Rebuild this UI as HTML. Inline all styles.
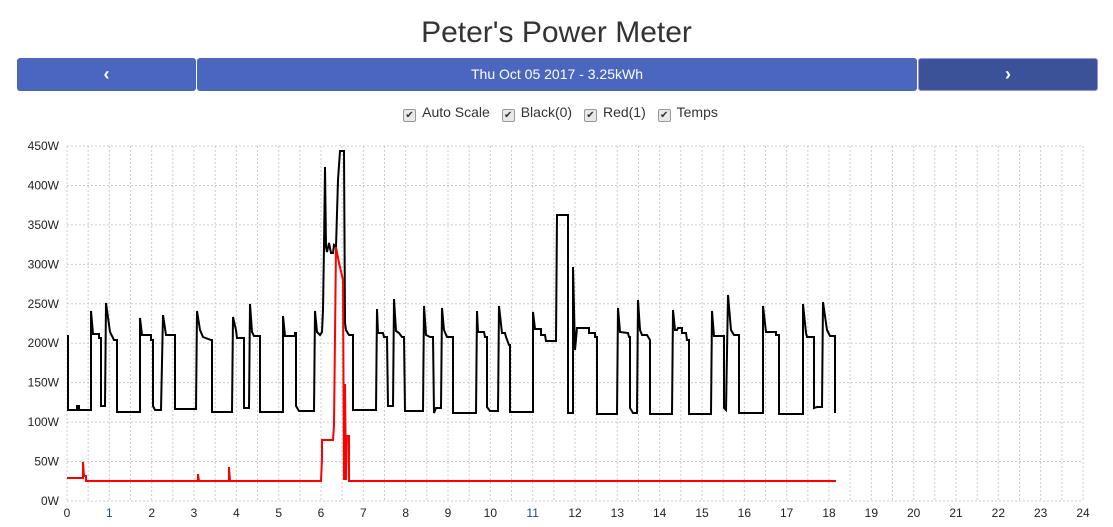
<!DOCTYPE html>
<html><head><meta charset="utf-8"><style>
body{margin:0;width:1113px;height:527px;background:#fff;font-family:"Liberation Sans",sans-serif;overflow:hidden;position:relative}
h1{position:absolute;top:16px;left:0;width:1113px;text-align:center;margin:0;font-weight:normal;font-size:30px;color:#333}
.btn{position:absolute;top:58px;height:33px;background:#4a66bf;color:#fff;border-radius:3px;text-align:center;line-height:33px;font-size:14px}
.cb{display:inline-block;width:11px;height:11px;border:1px solid #999;border-radius:2px;background:#e8e8e8;vertical-align:-1px;margin:0 6px 0 8px;font-size:10px;line-height:11px;text-align:center;color:#333}
#cbs{position:absolute;top:104px;left:0;width:1113px;text-align:center;font-size:14px;color:#333}
</style></head><body>
<h1>Peter's Power Meter</h1>
<div class="btn" style="left:17px;width:179px;font-weight:bold;font-size:18px">&#8249;</div>
<div class="btn" style="left:197px;width:720px">Thu Oct 05 2017 - 3.25kWh</div>
<div class="btn" style="left:918px;width:178px;background:#3c5298;border:1px solid #9b8fe8;height:31px;line-height:31px;font-weight:bold;font-size:18px">&#8250;</div>
<div id="cbs"><span class="cb">✔</span>Auto Scale <span class="cb">✔</span>Black(0) <span class="cb">✔</span>Red(1) <span class="cb">✔</span>Temps</div>
<svg width="1113" height="527" style="position:absolute;left:0;top:0" font-family="Liberation Sans, sans-serif" font-size="12">
<g id="grid" stroke="#ccc" stroke-dasharray="2,2" stroke-width="1"></g>
<g id="yl" fill="#222" text-anchor="end"></g>
<g id="xl" fill="#222" text-anchor="middle"></g>
<polyline fill="none" stroke="#000" stroke-width="2" points="67,336 68,336 68,410 77,410 77,406 79,406 79,410 91,410 91,311 93,334 99,334 99,338 101,338 101,406 105,406 106,303 110,332 114,340 117,340 117,412 140,412 140,318 142,335 151,335 151,340 153,340 153,406 155,410 161,410 163,315 166,335 175,335 175,409 196,409 197,311 200,330 203,337 211,340 212,340 212,412 232,412 233,317 236,330 237,338 244,338 244,408 249,408 250,304 252,332 254,336 260,336 260,412 283,412 283,316 285,336 295,336 295,333 296,333 296,406 299,411 314,411 315,311 317,332 320,335 322,332 323,310 324,247 325,167 326,247 327,252 329,243 331,253 333,253 334,245 336,247 338,180 340,151 344,151 345,323 346,330 349,335 353,335 353,410 376,410 377,309 378,333 383,333 384,337 387,337 388,406 393,406 394,299 396,331 399,333 402,337 404,337 405,411 423,411 424,306 426,335 430,337 433,337 434,413 436,408 441,408 442,308 444,330 447,337 453,337 453,413 476,413 477,311 478,332 484,332 485,337 487,337 487,407 490,411 498,411 499,306 502,333 505,333 506,337 509,345 510,345 510,412 533,412 533,312 535,329 541,329 541,335 545,335 546,341 556,341 557,215 568,215 568,413 573,413 573,267 575,350 577,328 589,328 589,333 595,333 595,337 597,337 597,414 617,414 618,308 620,332 628,333 629,337 630,337 630,408 633,413 637,413 638,300 640,330 642,335 647,335 650,340 650,414 672,414 673,310 675,330 677,330 678,328 682,328 682,333 686,333 687,340 689,340 689,414 711,414 712,311 714,336 724,336 724,408 726,410 728,295 731,330 734,335 739,335 739,413 763,413 763,306 766,332 776,332 776,335 779,335 779,414 803,414 803,304 806,333 807,337 814,337 814,408 817,407 822,407 823,302 825,316 827,330 830,336 835,336 835,413"/>
<polyline fill="none" stroke="#f00" stroke-width="2" points="67,478 83,478 83,462 84,476 86,476 86,481 198,481 198,474 199,481 229,481 229,467 230,481 321,481 322,458 322,440 333,440 334,425 336,247 339,263 343,280 344,480 345,384 346,480 347,436 349,436 349,481 836,481"/>
</svg>
<script>
var g=document.getElementById('grid'),yl=document.getElementById('yl'),xl=document.getElementById('xl'),ns='http://www.w3.org/2000/svg';
function el(p,t,a){var e=document.createElementNS(ns,t);for(var k in a)e.setAttribute(k,a[k]);p.appendChild(e);return e;}
var x0=67,x1=1083,yt=146,yb=501;
for(var i=0;i<=9;i++){var y=yb-(yb-yt)*i/9;el(g,'line',{x1:x0,x2:x1,y1:y,y2:y});var t=el(yl,'text',{x:59,y:y+4});t.textContent=(i*50)+'W';}
for(var i=0;i<=48;i++){var x=x0+(x1-x0)*i/48;el(g,'line',{x1:x,x2:x,y1:yt,y2:yb});}
for(var i=0;i<=24;i++){var x=x0+(x1-x0)*i/24;var t=el(xl,'text',{x:x,y:517});t.textContent=i;if(i==1||i==11)t.setAttribute('fill','#1a4a9a');}
</script>
</body></html>
